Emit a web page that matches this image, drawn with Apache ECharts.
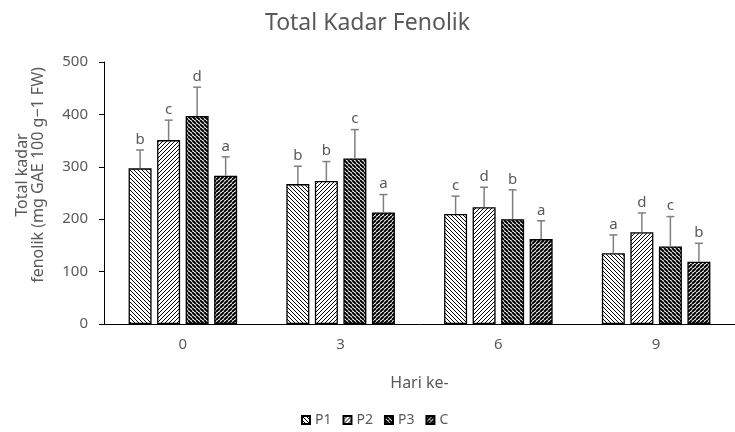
<!DOCTYPE html>
<html>
<head>
<meta charset="utf-8">
<script src="https://cdn.jsdelivr.net/npm/echarts@6/dist/echarts.min.js"></script>
<style>
  html, body { margin: 0; padding: 0; background: #fff; }
  #chart { width: 735px; height: 432px; }
</style>
</head>
<body>
<div id="chart"></div>
<script>
// Days of storage
const days = ['0', '3', '6', '9'];
// Mean total phenolic content per treatment
const P1 = [297, 267, 210, 135];
const P2 = [351, 273, 223, 175];
const P3 = [397, 316, 200, 148];
const C  = [283, 213, 162, 119];
// Standard deviations
const P1err = [35, 34, 34, 35];
const P2err = [38, 37, 38, 37];
const P3err = [55, 55, 56, 57];
const Cerr  = [36, 34, 35, 35];
// Significance letters
const P1sig = ['b', 'b', 'c', 'a'];
const P2sig = ['c', 'b', 'd', 'd'];
const P3sig = ['d', 'c', 'b', 'c'];
const Csig  = ['a', 'a', 'a', 'b'];
const yTicks = [0, 100, 200, 300, 400, 500];

const names = ['P1', 'P2', 'P3', 'C'];
const means = [P1, P2, P3, C];
const errs = [P1err, P2err, P3err, Cerr];
const sigs = [P1sig, P2sig, P3sig, Csig];

const TXT = '#595959';
const FONT = 'Noto Sans';
const BAR_W = 23;
const BAR_GAP = 0.24;

// Diagonal hatch tiles: dir '\\' or '/', line width, tile period
function hatch(dir, lw, n) {
  const c = document.createElement('canvas');
  c.width = n; c.height = n;
  const g = c.getContext('2d');
  g.fillStyle = '#fff';
  g.fillRect(0, 0, n, n);
  g.strokeStyle = '#000';
  g.lineWidth = lw;
  g.beginPath();
  for (let k = -2; k <= 2; k++) {
    if (dir === '\\') { g.moveTo(k * n, 0); g.lineTo(k * n + n, n); }
    else { g.moveTo(k * n, n); g.lineTo(k * n + n, 0); }
  }
  g.stroke();
  return { image: c, repeat: 'repeat' };
}
const fills = [hatch('\\', 1, 4), hatch('/', 1, 4), hatch('\\', 2, 4), hatch('/', 2, 4)];

const barSeries = names.map((n, i) => ({
  name: n,
  type: 'bar',
  data: means[i],
  barWidth: BAR_W,
  barGap: (BAR_GAP * 100) + '%',
  itemStyle: { color: fills[i], borderColor: '#000', borderWidth: 1.3 },
  emphasis: { disabled: true }
}));

// Error bars with letters on top
const errData = [];
names.forEach((n, s) => {
  days.forEach((d, c) => errData.push([c, means[s][c], errs[s][c], s, sigs[s][c]]));
});
const errSeries = {
  type: 'custom',
  name: 'err',
  data: errData,
  encode: { x: 0, y: 1 },
  z: 5,
  silent: true,
  renderItem: function (params, api) {
    const c = api.value(0), v = api.value(1), e = api.value(2), s = api.value(3);
    const letter = errData[params.dataIndex][4];
    const base = api.coord([c, v]);
    const top = api.coord([c, v + e]);
    const x = base[0] + (s - 1.5) * BAR_W * (1 + BAR_GAP);
    const cap = 4;
    const st = { stroke: '#7f7f7f', lineWidth: 1.5 };
    return {
      type: 'group',
      children: [
        { type: 'line', shape: { x1: x, y1: base[1], x2: x, y2: top[1] }, style: st },
        { type: 'line', shape: { x1: x - cap, y1: top[1], x2: x + cap, y2: top[1] }, style: st },
        { type: 'text', x: x, y: top[1] - 3,
          style: { text: letter, fill: TXT, font: '15px "' + FONT + '"', align: 'center', verticalAlign: 'bottom' } }
      ]
    };
  }
};

const chart = echarts.init(document.getElementById('chart'), null, { renderer: 'canvas' });
chart.setOption({
  backgroundColor: '#fff',
  animation: false,
  textStyle: { fontFamily: FONT, color: TXT },
  title: {
    text: 'Total Kadar Fenolik',
    left: 'center',
    top: 7,
    textStyle: { fontSize: 23, fontWeight: 'normal', color: TXT, fontFamily: FONT }
  },
  legend: {
    data: names,
    bottom: 0,
    left: 296,
    icon: 'rect',
    itemWidth: 8,
    itemHeight: 8,
    itemGap: 11,
    textStyle: { fontSize: 14, color: TXT, fontFamily: FONT }
  },
  grid: { left: 104, right: -5, top: 62, bottom: 108, containLabel: false },
  xAxis: {
    type: 'category',
    data: days,
    name: 'Hari ke-',
    nameLocation: 'middle',
    nameGap: 51,
    nameTextStyle: { fontSize: 16, color: TXT },
    axisLine: { lineStyle: { color: '#000', width: 1 } },
    axisTick: { alignWithLabel: true, length: 4, lineStyle: { color: '#000' } },
    axisLabel: { fontSize: 15, color: TXT, margin: 13 }
  },
  yAxis: {
    type: 'value',
    min: yTicks[0],
    max: yTicks[yTicks.length - 1],
    interval: yTicks[1] - yTicks[0],
    splitLine: { show: false },
    axisLine: { show: true, lineStyle: { color: '#000', width: 1 } },
    axisTick: { show: true, length: 5, lineStyle: { color: '#000' } },
    axisLabel: { fontSize: 15, color: TXT, margin: 16 }
  },
  graphic: [{
    type: 'text',
    x: 30,
    y: 175,
    rotation: Math.PI / 2,
    style: {
      text: 'Total kadar\nfenolik (mg GAE 100 g−1 FW)',
      fill: TXT,
      font: '16px "' + FONT + '"',
      align: 'center',
      verticalAlign: 'middle',
      lineHeight: 16
    }
  }],
  series: barSeries.concat([errSeries])
});
</script>
</body>
</html>
